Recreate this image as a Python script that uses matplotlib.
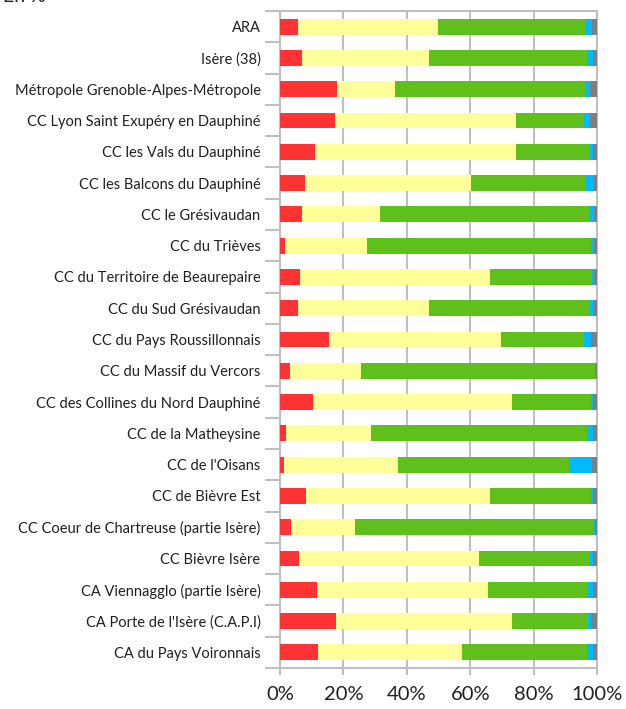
import matplotlib
matplotlib.use("Agg")
import matplotlib.pyplot as plt
import numpy as np

plt.rcParams["font.family"] = ["Lato", "DejaVu Sans"]

categories = [
    "ARA", "Isère (38)", "Métropole Grenoble-Alpes-Métropole",
    "CC Lyon Saint Exupéry en Dauphiné", "CC les Vals du Dauphiné",
    "CC les Balcons du Dauphiné", "CC le Grésivaudan", "CC du Trièves",
    "CC du Territoire de Beaurepaire", "CC du Sud Grésivaudan",
    "CC du Pays Roussillonnais", "CC du Massif du Vercors",
    "CC des Collines du Nord Dauphiné", "CC de la Matheysine",
    "CC de l'Oisans", "CC de Bièvre Est",
    "CC Coeur de Chartreuse (partie Isère)", "CC Bièvre Isère",
    "CA Viennagglo (partie Isère)", "CA Porte de l'Isère (C.A.P.I)",
    "CA du Pays Voironnais",
]
red = [5.7, 6.9, 18.0, 17.4, 11.1, 7.9, 6.9, 1.6, 6.3, 5.7, 15.5, 3.2, 10.4, 1.9, 1.3, 8.2, 3.5, 6.0, 11.7, 17.7, 12.0]
yellow = [44.2, 40.2, 18.3, 57.1, 63.4, 52.4, 24.7, 25.9, 60.0, 41.4, 54.3, 22.4, 62.9, 26.8, 36.0, 58.1, 20.2, 56.8, 54.0, 55.6, 45.5]
green = [46.6, 49.8, 60.0, 21.3, 23.3, 36.2, 66.0, 70.7, 32.1, 50.7, 26.0, 73.9, 24.9, 68.2, 54.0, 31.9, 75.4, 35.0, 31.5, 23.9, 39.4]
blue = [2.0, 1.9, 1.6, 2.1, 1.0, 2.6, 1.5, 0.9, 0.7, 1.3, 2.4, 0.0, 0.6, 1.9, 7.1, 0.6, 0.4, 1.0, 1.6, 1.0, 1.9]
gray = [1.5, 1.2, 2.1, 2.1, 1.2, 0.9, 0.9, 0.9, 0.9, 0.9, 1.8, 0.5, 1.2, 1.2, 1.6, 1.2, 0.5, 1.2, 1.2, 1.8, 1.2]
xticks = [0, 20, 40, 60, 80, 100]
xticklabels = ["0%", "20%", "40%", "60%", "80%", "100%"]

series = [red, yellow, green, blue, gray]
colors = ["#FF3333", "#FFFF99", "#5FBF1B", "#00B9FF", "#7F7F7F"]

fig = plt.figure(figsize=(6.26, 7.09), dpi=100)
ax = fig.add_axes([0.4473, 0.0578, 0.5064, 0.9267])

y = np.arange(len(categories))
left = np.zeros(len(categories))
for vals, c in zip(series, colors):
    v = np.array(vals)
    ax.barh(y, v, left=left, height=0.51, color=c, zorder=3)
    left += v

ax.set_ylim(len(categories) - 0.5, -0.5)
ax.set_xlim(0, 100)
ax.set_yticks(y)
ax.set_yticklabels(categories, fontsize=10.5, color="#202020")
ax.set_yticks(np.arange(len(categories) + 1) - 0.5, minor=True)
ax.tick_params(axis="y", which="major", length=0, pad=14)
ax.tick_params(axis="y", which="minor", length=11, width=1.5, color="#BFBFBF")
ax.set_xticks(xticks)
ax.set_xticklabels(xticklabels, fontsize=14.5, color="#202020")
ax.tick_params(axis="x", length=5, width=1.5, color="#BFBFBF", pad=8)
ax.grid(axis="x", color="#BFBFBF", linewidth=1.5, zorder=0)
for s in ax.spines.values():
    s.set_color("#BFBFBF")
    s.set_linewidth(1.5)

fig.text(0.005, 1.005, "En %", fontsize=14, color="#202020", va="center", ha="left")

fig.savefig("out.png", dpi=100)
